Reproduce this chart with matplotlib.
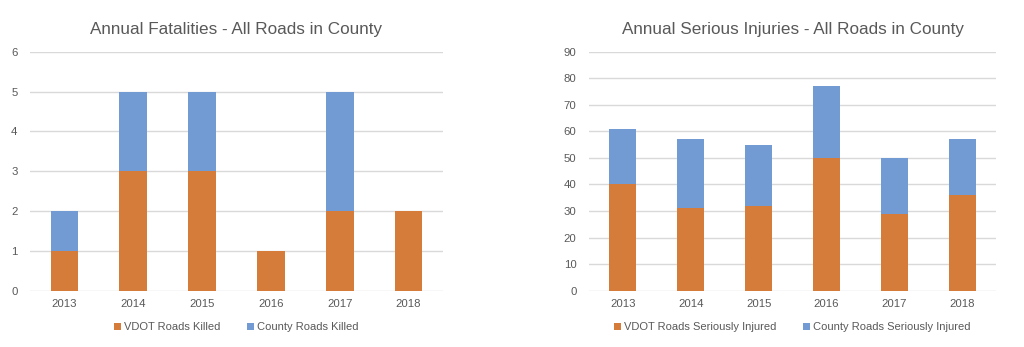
import matplotlib.pyplot as plt
import numpy as np

plt.rcParams['font.family'] = ['Liberation Sans', 'DejaVu Sans']

# Data
years = ['2013', '2014', '2015', '2016', '2017', '2018']
vdot_killed = [1, 3, 3, 1, 2, 2]
county_killed = [1, 2, 2, 0, 3, 0]
vdot_injured = [40, 31, 32, 50, 29, 36]
county_injured = [21, 26, 23, 27, 21, 21]

ORANGE = '#D57C3A'
BLUE = '#729BD3'
GRID = '#D9D9D9'
TEXT = '#595959'

fig = plt.figure(figsize=(10.24, 3.47), dpi=100)
ax1 = fig.add_axes([30 / 1024, 1 - 290.7 / 347, 413 / 1024, 239 / 347])
ax2 = fig.add_axes([589 / 1024, 1 - 290.7 / 347, 407 / 1024, 239 / 347])


def draw(ax, bottom_vals, top_vals, ymax, ystep, title, labels):
    x = np.arange(len(years))
    ax.bar(x, bottom_vals, width=0.4, color=ORANGE, label=labels[0], zorder=3)
    ax.bar(x, top_vals, width=0.4, bottom=bottom_vals, color=BLUE,
           label=labels[1], zorder=3)
    ax.set_xlim(-0.5, len(years) - 0.5)
    ax.set_ylim(0, ymax)
    ax.set_yticks(np.arange(0, ymax + 1, ystep))
    ax.set_xticks(x)
    ax.set_xticklabels(years)
    ax.grid(axis='y', color=GRID, linewidth=1, zorder=0)
    for s in ax.spines.values():
        s.set_visible(False)
    ax.tick_params(length=0, labelsize=8.2, colors=TEXT, pad=6)
    ax.tick_params(axis='y', pad=9)
    ax.set_title(title, fontsize=12.3, color=TEXT, pad=13)
    ax.legend(loc='center', bbox_to_anchor=(0.5, -0.152), ncol=2, frameon=False,
              fontsize=8, labelcolor=TEXT, handlelength=0.6, handleheight=0.6,
              handletextpad=0.3, columnspacing=2.4)


draw(ax1, vdot_killed, county_killed, 6, 1,
     'Annual Fatalities - All Roads in County',
     ['VDOT Roads Killed', 'County Roads Killed'])
draw(ax2, vdot_injured, county_injured, 90, 10,
     'Annual Serious Injuries - All Roads in County',
     ['VDOT Roads Seriously Injured', 'County Roads Seriously Injured'])

fig.savefig('out.png', dpi=100)
